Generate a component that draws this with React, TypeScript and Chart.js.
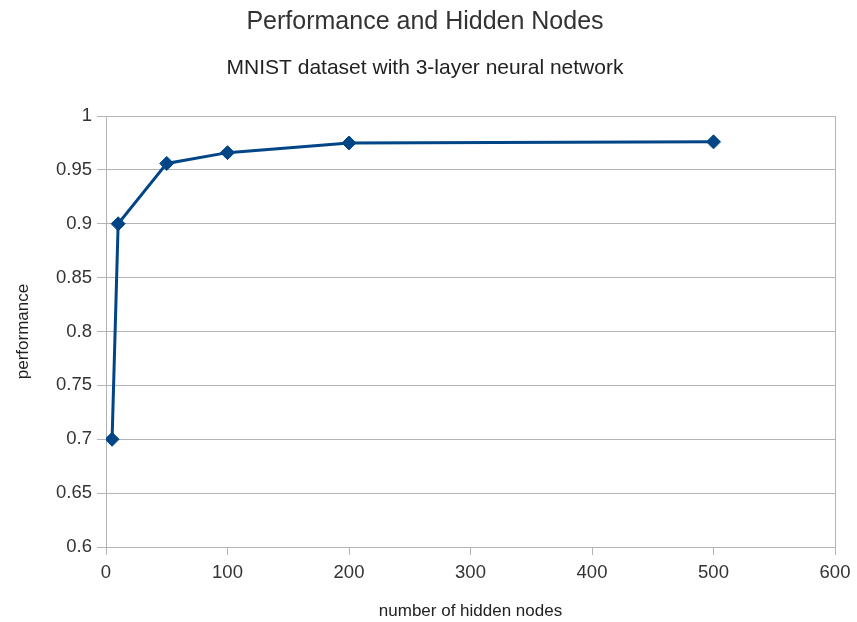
import React, { useEffect, useRef } from "react";
import { Chart, registerables } from "chart.js";

Chart.register(...registerables);

const hiddenNodes = [5, 10, 50, 100, 200, 500];
const performance = [0.7, 0.9, 0.956, 0.966, 0.975, 0.976];
const chartTitle = "Performance and Hidden Nodes";
const chartSubtitle = "MNIST dataset with 3-layer neural network";
const xAxisTitle = "number of hidden nodes";
const yAxisTitle = "performance";

const LINE = "#004586";
const GRID = "#b3b3b3";
const TEXT = "#333333";
const FONT = "'Liberation Sans', Arial, sans-serif";

export default function App() {
  const ref = useRef<HTMLCanvasElement>(null);

  useEffect(() => {
    document.body.style.margin = "0";
    const canvas = ref.current;
    if (!canvas) return;
    const chart = new Chart(canvas, {
      type: "line",
      data: {
        datasets: [
          {
            label: yAxisTitle,
            data: hiddenNodes.map((x, i) => ({ x, y: performance[i] })),
            borderColor: LINE,
            backgroundColor: LINE,
            borderWidth: 3,
            pointStyle: "rectRot",
            pointRadius: 7,
            pointHoverRadius: 7,
            pointBackgroundColor: LINE,
            pointBorderColor: LINE,
            pointBorderWidth: 1,
            tension: 0,
            fill: false,
          },
        ],
      },
      options: {
        responsive: false,
        animation: false,
        layout: { padding: { top: 0, left: 15, right: 22, bottom: 0 } },
        plugins: {
          legend: { display: false },
          tooltip: { enabled: false },
          title: {
            display: true,
            text: chartTitle,
            color: TEXT,
            font: { family: FONT, size: 25, weight: "normal" },
            padding: { top: 7.5, bottom: 10 },
          },
          subtitle: {
            display: true,
            text: chartSubtitle,
            color: "#222222",
            font: { family: FONT, size: 21, weight: "normal" },
            padding: { top: 8.4, bottom: 34.9 },
          },
        },
        scales: {
          x: {
            type: "linear",
            min: 0,
            max: 600,
            ticks: {
              stepSize: 100,
              color: TEXT,
              padding: 6.4,
              font: { family: FONT, size: 18.5 },
              maxRotation: 0,
            },
            grid: {
              color: (ctx: any) =>
                ctx.tick && ctx.tick.value === 600 ? GRID : "rgba(0,0,0,0)",
              tickColor: GRID,
              tickLength: 8,
              lineWidth: 1,
            },
            border: { display: true, color: GRID },
            title: {
              display: true,
              text: xAxisTitle,
              color: "#222222",
              font: { family: FONT, size: 17 },
              padding: { top: 0, bottom: 0 },
            },
            afterFit: (scale: any) => {
              scale.height = 75;
            },
          },
          y: {
            type: "linear",
            min: 0.6,
            max: 1,
            ticks: {
              stepSize: 0.05,
              color: TEXT,
              padding: 5,
              font: { family: FONT, size: 18.5 },
              callback: (v: any) => String(Number(Number(v).toFixed(2))),
            },
            grid: {
              color: GRID,
              tickColor: GRID,
              tickLength: 9,
              lineWidth: 1,
            },
            border: { display: true, color: GRID },
            title: {
              display: true,
              text: yAxisTitle,
              color: "#222222",
              font: { family: FONT, size: 17 },
              padding: { top: -2.2, bottom: 0 },
            },
            afterFit: (scale: any) => {
              scale.width = 91;
            },
          },
        },
      },
    });
    return () => chart.destroy();
  }, []);

  return (
    <div style={{ width: 857, height: 622 }}>
      <canvas ref={ref} width={857} height={622} />
    </div>
  );
}
